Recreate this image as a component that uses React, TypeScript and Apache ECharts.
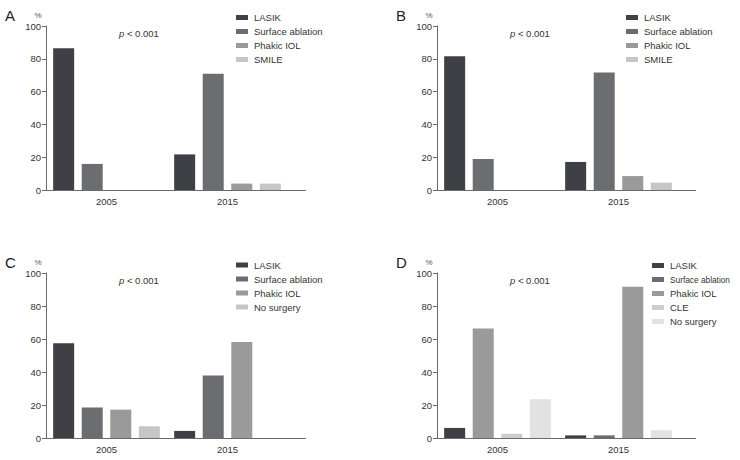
import React, { useEffect, useRef } from "react";
import * as echarts from "echarts";

// Categories and legend entries
const years = ["2005", "2015"];
const yTicks = [0, 20, 40, 60, 80, 100];

// Panel A (%)
const aLasik = [86.4, 21.7];
const aSurface = [15.9, 70.9];
const aPhakic = [0, 3.9];
const aSmile = [0, 3.9];

// Panel B (%)
const bLasik = [81.5, 17.1];
const bSurface = [18.9, 71.7];
const bPhakic = [0, 8.5];
const bSmile = [0, 4.5];

// Panel C (%)
const cLasik = [57.4, 4.3];
const cSurface = [18.5, 37.9];
const cPhakic = [17.2, 58.2];
const cNoSurgery = [7.1, 0];

// Panel D (%)
const dLasik = [6.1, 1.6];
const dSurface = [0, 1.6];
const dPhakic = [66.4, 91.7];
const dCle = [2.6, 0];
const dNoSurgery = [23.5, 4.7];

const COLORS: Record<string, string> = {
  LASIK: "#3f4045",
  "Surface ablation": "#6c6d70",
  "Phakic IOL": "#9a9a9b",
  SMILE: "#c6c6c6",
  CLE: "#cdcdcd",
  "No surgery": "#c6c6c6",
  "No surgery D": "#e2e2e2",
};

const FONT = "'Liberation Sans', Arial, Helvetica, sans-serif";
const AXIS_COLOR = "#6a6a6a";
const TEXT_COLOR = "#333333";

type Panel = {
  letter: string;
  left: number;
  top: number;
  width: number;
  height: number;
  axisEnd: number;
  legendLeft: number;
  legendTop: number;
};

const panels: Panel[] = [
  { letter: "A", left: 46, top: 26, width: 242, height: 164, axisEnd: 306, legendLeft: 236, legendTop: 11.5 },
  { letter: "B", left: 437, top: 26, width: 242, height: 164, axisEnd: 696, legendLeft: 626, legendTop: 11.5 },
  { letter: "C", left: 46, top: 273, width: 242, height: 165, axisEnd: 306, legendLeft: 236, legendTop: 259 },
  { letter: "D", left: 437, top: 273, width: 242, height: 165, axisEnd: 696, legendLeft: 652, legendTop: 259.5 },
];

function bar(name: string, data: number[], idx: number, color: string, stack?: string) {
  return {
    type: "bar",
    name,
    data,
    xAxisIndex: idx,
    yAxisIndex: idx,
    stack,
    barWidth: 21,
    barGap: "36%",
    itemStyle: { color },
    emphasis: { disabled: true },
  };
}

function legend(p: Panel, names: string[], overrides: Record<string, string> = {}, narrow: string[] = []) {
  return {
    orient: "vertical",
    left: p.legendLeft,
    top: p.legendTop,
    padding: 0,
    itemGap: 2,
    itemWidth: 12,
    itemHeight: 5,
    icon: "rect",
    selectedMode: false,
    textStyle: {
      fontFamily: FONT,
      fontSize: 9.5,
      color: TEXT_COLOR,
      lineHeight: 12,
      padding: [0, 0, 0, 1],
      rich: {
        narrow: {
          fontFamily: FONT,
          fontSize: 8.3,
          color: TEXT_COLOR,
          lineHeight: 12,
        },
      },
    },
    formatter: (n: string) => (narrow.includes(n) ? `{narrow|${n}}` : n),
    data: names.map((n) => ({
      name: n,
      itemStyle: { color: overrides[n] || COLORS[n] },
    })),
  };
}

export default function App() {
  const ref = useRef<HTMLDivElement>(null);

  useEffect(() => {
    document.body.style.margin = "0";
    if (!ref.current) return;
    const chart = echarts.init(ref.current, undefined, { renderer: "svg" });

    const grid = panels.map((p) => ({
      left: p.left,
      top: p.top,
      width: p.width,
      height: p.height,
      containLabel: false,
    }));

    const xAxis = panels.map((_, i) => ({
      type: "category",
      gridIndex: i,
      data: years,
      axisLine: { lineStyle: { color: AXIS_COLOR, width: 1 } },
      axisTick: { alignWithLabel: true, length: 3, lineStyle: { color: AXIS_COLOR } },
      axisLabel: { fontFamily: FONT, fontSize: 9.5, color: TEXT_COLOR, margin: 6 },
      splitLine: { show: false },
    }));

    const yAxis = panels.map((_, i) => ({
      type: "value",
      gridIndex: i,
      min: yTicks[0],
      max: yTicks[yTicks.length - 1],
      interval: yTicks[1] - yTicks[0],
      axisLine: { show: true, lineStyle: { color: AXIS_COLOR, width: 1 } },
      axisTick: { show: true, length: 4, lineStyle: { color: AXIS_COLOR } },
      axisLabel: { fontFamily: FONT, fontSize: 9.5, color: TEXT_COLOR, margin: 5 },
      splitLine: { show: false },
    }));

    // Panel D: each year shows four slots; Phakic IOL shares a slot with
    // Surface ablation in one year and with CLE in the other.
    const phakicD2005 = [dPhakic[0], 0];
    const phakicD2015 = [0, dPhakic[1]];

    const series = [
      bar("LASIK", aLasik, 0, COLORS.LASIK),
      bar("Surface ablation", aSurface, 0, COLORS["Surface ablation"]),
      bar("Phakic IOL", aPhakic, 0, COLORS["Phakic IOL"]),
      bar("SMILE", aSmile, 0, COLORS.SMILE),

      bar("LASIK", bLasik, 1, COLORS.LASIK),
      bar("Surface ablation", bSurface, 1, COLORS["Surface ablation"]),
      bar("Phakic IOL", bPhakic, 1, COLORS["Phakic IOL"]),
      bar("SMILE", bSmile, 1, COLORS.SMILE),

      bar("LASIK", cLasik, 2, COLORS.LASIK),
      bar("Surface ablation", cSurface, 2, COLORS["Surface ablation"]),
      bar("Phakic IOL", cPhakic, 2, COLORS["Phakic IOL"]),
      bar("No surgery", cNoSurgery, 2, COLORS["No surgery"]),

      bar("LASIK", dLasik, 3, COLORS.LASIK),
      bar("Surface ablation", dSurface, 3, COLORS["Surface ablation"], "d-slot2"),
      bar("Phakic IOL", phakicD2005, 3, COLORS["Phakic IOL"], "d-slot2"),
      bar("CLE", dCle, 3, COLORS.CLE, "d-slot3"),
      bar("Phakic IOL", phakicD2015, 3, COLORS["Phakic IOL"], "d-slot3"),
      bar("No surgery", dNoSurgery, 3, COLORS["No surgery D"]),
    ];

    const legends = [
      legend(panels[0], ["LASIK", "Surface ablation", "Phakic IOL", "SMILE"]),
      legend(panels[1], ["LASIK", "Surface ablation", "Phakic IOL", "SMILE"]),
      legend(panels[2], ["LASIK", "Surface ablation", "Phakic IOL", "No surgery"]),
      legend(
        panels[3],
        ["LASIK", "Surface ablation", "Phakic IOL", "CLE", "No surgery"],
        { "No surgery": COLORS["No surgery D"] },
        ["Surface ablation"]
      ),
    ];

    const graphic: any[] = [];
    panels.forEach((p) => {
      const bottom = p.top + p.height;
      // x-axis line continues a little past the last category band
      graphic.push({
        type: "line",
        silent: true,
        shape: { x1: p.left + p.width, y1: bottom + 0.5, x2: p.axisEnd, y2: bottom + 0.5 },
        style: { stroke: AXIS_COLOR, lineWidth: 1 },
      });
      // panel letter
      graphic.push({
        type: "text",
        left: p.left - 41,
        top: p.top - 18,
        style: { text: p.letter, fontFamily: FONT, fontSize: 15, fill: "#222" },
      });
      // unit label
      graphic.push({
        type: "text",
        x: p.left - 8,
        y: p.top - 11,
        style: {
          text: "%",
          fontFamily: FONT,
          fontSize: 8,
          fill: "#555555",
          align: "center",
          verticalAlign: "middle",
        },
      });
      // significance note
      graphic.push({
        type: "text",
        x: p.left + 73,
        y: p.top + 7,
        style: {
          text: "{i|p} < 0.001",
          fontFamily: FONT,
          fontSize: 9.5,
          fill: TEXT_COLOR,
          verticalAlign: "middle",
          rich: {
            i: { fontFamily: FONT, fontSize: 9.5, fontStyle: "italic", fill: TEXT_COLOR },
          },
        },
      });
    });

    chart.setOption({
      animation: false,
      backgroundColor: "#ffffff",
      textStyle: { fontFamily: FONT },
      grid,
      xAxis,
      yAxis,
      legend: legends,
      series,
      graphic,
    });

    return () => chart.dispose();
  }, []);

  return <div ref={ref} style={{ width: 740, height: 460 }} />;
}
